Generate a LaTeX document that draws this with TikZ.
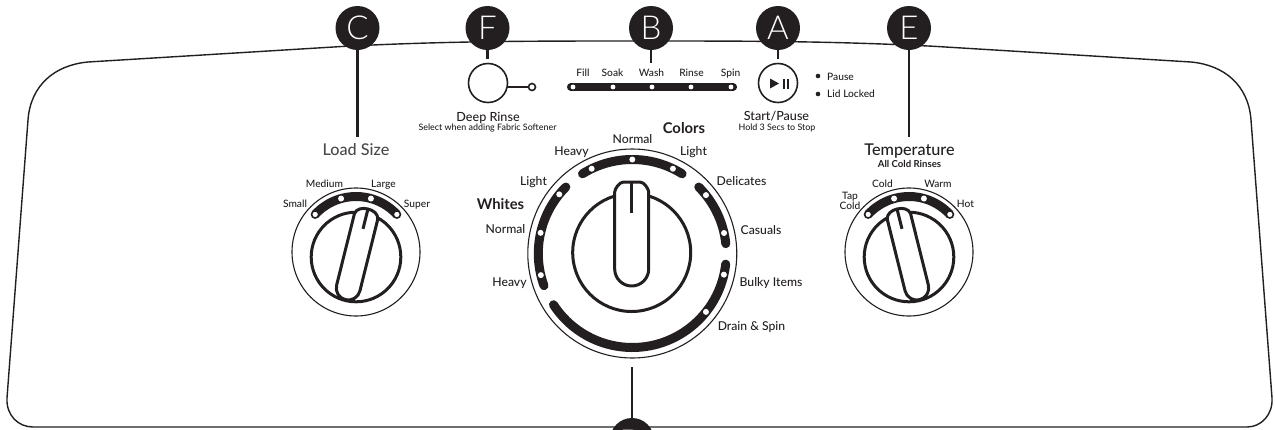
\documentclass[tikz,border=0pt]{standalone}
\usepackage{fontspec}
\setmainfont{Lato Medium}[BoldFont=Lato Bold]
\newfontfamily\letterfont{Lato Light}
\definecolor{ink}{HTML}{231F20}
\definecolor{soft}{HTML}{4A4A4A}
\tikzset{
  outline/.style={draw=ink,line width=1.4},
  badge/.style={circle,fill=ink,text=white,minimum size=44,inner sep=0,font=\letterfont\fontsize{33}{33}\selectfont,text height=23,text depth=0},
  conn/.style={draw=ink,line width=2.4},
  rim/.style={draw=ink,line width=1.1},
  band/.style={draw=ink,line width=9,line cap=round},
  knobline/.style={draw=ink,line width=3},
  lbl/.style={inner sep=0,text=ink,font=\fontsize{10.2}{12}\selectfont,text height=7.3,text depth=0},
  lbld/.style={lbl,font=\fontsize{12.2}{14}\selectfont,text height=8.8},
  lblm/.style={lbl,font=\fontsize{12.6}{14}\selectfont,text height=9},
  lblh/.style={lbl,font=\fontsize{16.2}{18}\selectfont,text height=11.6},
  lblb/.style={lbl,font=\bfseries\fontsize{14.8}{16}\selectfont,text height=10.6},
  lbls/.style={lbl,font=\fontsize{8.9}{10}\selectfont,text height=6.4},
  lblsb/.style={lbl,font=\bfseries\fontsize{9.6}{11}\selectfont,text height=6.9},
}
\newcommand{\smallknob}[4]{%
  % #1 prefix, #2 x, #3 y, #4 rotation
  \coordinate (#1o) at (#2,#3);
  \coordinate (#1i) at (#2,#3-5);
  \draw[rim] (#1o) circle (64);
  \draw[knobline] (#1i) circle (44.8);
  \draw[band,line cap=butt] ([shift={(137.4:55.5)}]#1o) arc[start angle=137.4,end angle=42.6,radius=55.5];
  \foreach \a in {105.6,74.4}{\fill[white] ([shift={(\a:55.5)}]#1o) circle (3);}
  \foreach \a in {137.4,42.6}{\draw[ink,fill=white,line width=1.6] ([shift={(\a:55.5)}]#1o) circle (3.6);}
  \begin{scope}[shift={(#1i)},rotate=#4]
    \draw[knobline,fill=white,line join=round] (-12,-32) arc[start angle=180,end angle=360,radius=12] -- (12,42)
       .. controls (11,47) and (6,49.5) .. (0,49.5) .. controls (-6,49.5) and (-11,47) .. (-12,42) -- cycle;
    \draw[ink,line width=3] (0,49) -- (0,29);
  \end{scope}
}
\begin{document}
\begin{tikzpicture}[x=1pt,y=1pt]
\clip (0,0) rectangle (1275,-429);
\fill[white] (0,0) rectangle (1275,-429);
% panel outline
\draw[outline] (33,-427) -- (1247,-427)
  .. controls (1261,-427) and (1273,-415) .. (1272,-398)
  -- (1251,-120)
  .. controls (1248.5,-85) and (1224,-65) .. (1191,-62)
  -- (934,-46.3)
  .. controls (830,-41) and (750,-41) .. (640,-41)
  .. controls (530,-41) and (450,-41) .. (345,-46.3)
  -- (88,-62)
  .. controls (55,-65) and (30.5,-85) .. (28,-120)
  -- (7,-398)
  .. controls (6,-415) and (18,-427) .. (33,-427) -- cycle;
% connector free ends
\coordinate (Cend) at (357.5,-137);
\coordinate (Fend) at (487.5,-59);
\coordinate (Bend) at (651,-63);
\coordinate (Aend) at (778,-59);
\coordinate (Eend) at (909,-137);
\coordinate (Dend) at (632,-367);
% badges
\node[badge] (C) at (357.5,-28) {C};
\node[badge] (F) at (487.5,-28) {F};
\node[badge] (B) at (651,-28) {B};
\node[badge] (A) at (778,-28) {A};
\node[badge] (E) at (909,-28) {E};
\node[badge] (D) at (632,-440) {\raisebox{-1.5pt}[0pt][0pt]{D}};
\foreach \n in {C,F,B,A,E}{\draw[conn] (\n.south) -- (\n end);}
\draw[conn] (D.north) -- (Dend);
% deep rinse button
\node[circle,draw=ink,line width=1.6,minimum size=39,inner sep=0] (deep) at (488,-83) {};
\node[circle,draw=ink,line width=1.6,minimum size=7,inner sep=0] (deepled) at (532,-87) {};
\coordinate (deepout) at (507.2,-87);
\draw[ink,line width=1.6] (deepout) -- (deepled);
% start button
\node[circle,draw=ink,line width=1.6,minimum size=39,inner sep=0] (start) at (778,-83) {};
\fill[ink] (770,-78.5) -- (770,-88.5) -- (779,-83.5) -- cycle;
\fill[ink] (782.5,-78.5) rectangle (784.6,-88.5);
\fill[ink] (786.6,-78.5) rectangle (788.7,-88.5);
\fill[ink] (818,-76) circle (2.3);
\fill[ink] (818,-94) circle (2.3);
% cycle bar
\draw[ink,line width=7.5,line cap=round] (570.7,-87) -- (733.3,-87);
\foreach \x in {573,613,652,691,731}{\fill[white] (\x,-87) circle (2.4);}
% main dial
\coordinate (mc) at (632.3,-253.5);
\coordinate (mi) at (631.7,-252.5);
\draw[rim] (mc) circle (104.5);
\draw[knobline] (mi) circle (59);
\draw[band] ([shift={(122:94)}]mc) arc[start angle=122,end angle=58,radius=94];
\draw[band] ([shift={(45:94)}]mc) arc[start angle=45,end angle=6,radius=94];
\draw[band] ([shift={(-6.5:94)}]mc) arc[start angle=-6.5,end angle=-147,radius=94];
\draw[band] ([shift={(135:94)}]mc) arc[start angle=135,end angle=200,radius=94];
\foreach \a in {115.6,90,64.4,38.4,12.6,-13,-38.4,141,167.3,193.3}{\fill[white] ([shift={(\a:94)}]mc) circle (3);}
\draw[knobline,fill=white,line join=round] (614.7,-269) arc[start angle=180,end angle=360,radius=17] -- (648.7,-192)
   .. controls (648.7,-189) and (644,-182) .. (640,-182) -- (623.4,-182) .. controls (619.4,-182) and (614.7,-189) .. (614.7,-192) -- cycle;
\draw[ink,line width=3] (631.7,-182) -- (631.7,-213);
% small dials
\smallknob{ls}{356}{-252}{-14}
\smallknob{tp}{909}{-252}{14}
% labels
\node[lblh,text=soft] (tLoad) at (356,-150) {Load Size};
\node[lbl] (tSmall) at (295,-204) {Small};
\node[lbl] (tMedium) at (324.5,-184) {Medium};
\node[lbl] (tLarge) at (383.5,-184) {Large};
\node[lbl] (tSuper) at (417,-204) {Super};
\node[lbl] (tFill) at (583,-73) {Fill};
\node[lbl] (tSoak) at (612.5,-73) {Soak};
\node[lbl] (tWash) at (651.5,-73) {Wash};
\node[lbl] (tRinse) at (691.5,-73) {Rinse};
\node[lbl] (tSpin) at (730.5,-73) {Spin};
\node[lblm] (tDeep) at (488,-117) {Deep Rinse};
\node[lbls] (tSel) at (487.5,-127.5) {Select when adding Fabric Softener};
\node[lblm] (tStart) at (776.5,-116) {Start/Pause};
\node[lbls] (tHold) at (777,-127) {Hold 3 Secs to Stop};
\node[lbl,anchor=west] (tPause) at (827,-76.5) {Pause};
\node[lbl,anchor=west] (tLid) at (827,-94) {Lid Locked};
\node[lblb] (tColors) at (684,-128) {Colors};
\node[lbld] (tN1) at (632.5,-139) {Normal};
\node[lbld] (tH1) at (571.5,-151) {Heavy};
\node[lbld] (tL1) at (693.5,-151) {Light};
\node[lbld] (tL2) at (533.5,-181) {Light};
\node[lbld] (tDel) at (741.5,-181) {Delicates};
\node[lblb] (tWhites) at (500.5,-204) {Whites};
\node[lbld] (tN2) at (505.5,-229.5) {Normal};
\node[lbld] (tCas) at (761,-230) {Casuals};
\node[lbld] (tH2) at (509.5,-282) {Heavy};
\node[lbld] (tBulky) at (771,-282) {Bulky Items};
\node[lbld] (tDrain) at (751.5,-326) {Drain \& Spin};
\node[lblh] (tTemp) at (909.5,-150) {Temperature};
\node[lblsb] (tAll) at (909.5,-164) {All Cold Rinses};
\node[lbl] (tTap) at (850,-196) {Tap};
\node[lbl] (tTapc) at (850,-206) {Cold};
\node[lbl] (tCold) at (882.5,-184) {Cold};
\node[lbl] (tWarm) at (938,-184) {Warm};
\node[lbl] (tHot) at (965.5,-204) {Hot};
\end{tikzpicture}
\end{document}
